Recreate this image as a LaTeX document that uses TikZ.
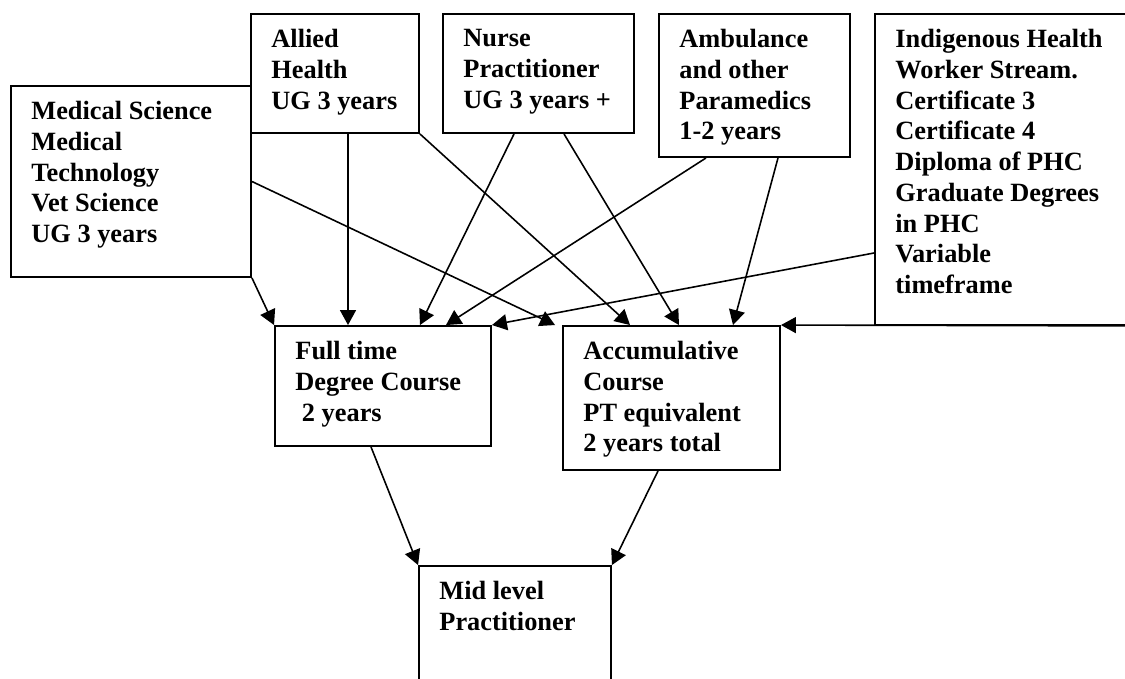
\documentclass[tikz,border=0pt]{standalone}
\usepackage{fontspec}
\setmainfont{Liberation Serif}
\usepackage{tikz}
\usetikzlibrary{arrows.meta, positioning}
\tikzset{
    sbox/.style={rectangle, draw=black, line width=1.1pt, inner sep=0pt},
    stext/.style={anchor=north west, align=left, inner xsep=0.42cm, inner ysep=0.32cm,
                  font=\bfseries\fontsize{15pt}{17.5pt}\selectfont},
    arr/.style={-{Triangle[length=0.3cm, width=0.32cm]}, line width=0.9pt, draw=black}
}

\begin{document}
\begin{tikzpicture}[x=0.02cm, y=-0.02cm]
\useasboundingbox (0,0) rectangle (1125,679);

% ── Entry streams (top) ───────────────────────────────────────────────
\node[sbox, minimum width=4.8cm,  minimum height=3.82cm] at (131,  181.5) (med)    {};
\node[sbox, minimum width=3.36cm, minimum height=2.38cm] at (335,   73.5) (allied) {};
\node[sbox, minimum width=3.82cm, minimum height=2.38cm] at (538.5, 73.5) (nurse)  {};
\node[sbox, minimum width=3.82cm, minimum height=2.86cm] at (754.5, 85.5) (amb)    {};
\node[sbox, minimum width=5.3cm,  minimum height=6.22cm] at (1007.5,169.5)(indig)  {};

\node[stext] at (med.north west)    (medt)    {Medical Science\\Medical\\Technology\\Vet Science\\UG 3 years};
\node[stext] at (allied.north west) (alliedt) {Allied\\Health\\UG 3 years};
\node[stext] at (nurse.north west)  (nurset)  {Nurse\\Practitioner\\UG 3 years +};
\node[stext] at (amb.north west)    (ambt)    {Ambulance\\and other\\Paramedics\\1-2 years};
\node[stext] at (indig.north west)  (indigt)  {Indigenous Health\\Worker Stream.\\Certificate 3\\Certificate 4\\Diploma of PHC\\Graduate Degrees\\in PHC\\Variable\\timeframe};

% ── Courses (middle) ──────────────────────────────────────────────────
\node[sbox, minimum width=4.32cm, minimum height=2.4cm]  at (383,   386) (full)  {};
\node[sbox, minimum width=4.34cm, minimum height=2.88cm] at (671.5, 398) (accum) {};

\node[stext] at (full.north west)  (fullt)  {Full time\\Degree Course\\\hspace*{.25em}2 years};
\node[stext] at (accum.north west) (accumt) {Accumulative\\Course\\PT equivalent\\2 years total};

% ── Outcome (bottom) ──────────────────────────────────────────────────
\node[sbox, minimum width=3.84cm, minimum height=2.68cm] at (515, 633) (mid) {};
\node[stext] at (mid.north west) (midt) {Mid level\\Practitioner};

% ── Arrows into full time course ──────────────────────────────────────
\draw[arr] (med.south east) -- (full.north west);
\draw[arr] ([xshift=0.26cm]allied.south) -- ([xshift=-0.7cm]full.north);
\draw[arr] ([xshift=-0.49cm]nurse.south) -- ([xshift=0.74cm]full.north);
\draw[arr] ([xshift=-0.97cm]amb.south)   -- ([xshift=1.26cm]full.north);
\draw[arr] ([yshift=-1.67cm]indig.west)  -- (full.north east);

% ── Arrows into accumulative course ───────────────────────────────────
\draw[arr] (med.east) -- ([xshift=-0.14cm]accum.north west);
\draw[arr] (allied.south east) -- ([xshift=-0.83cm]accum.north);
\draw[arr] ([xshift=0.51cm]nurse.south) -- ([xshift=0.15cm]accum.north);
\draw[arr] ([xshift=0.47cm]amb.south)   -- ([xshift=1.23cm]accum.north);
\draw[arr] (indig.south east) -- (accum.north east);

% ── Arrows to outcome ─────────────────────────────────────────────────
\draw[arr] ([xshift=-0.24cm]full.south)  -- (mid.north west);
\draw[arr] ([xshift=-0.27cm]accum.south) -- (mid.north east);
\end{tikzpicture}
\end{document}
